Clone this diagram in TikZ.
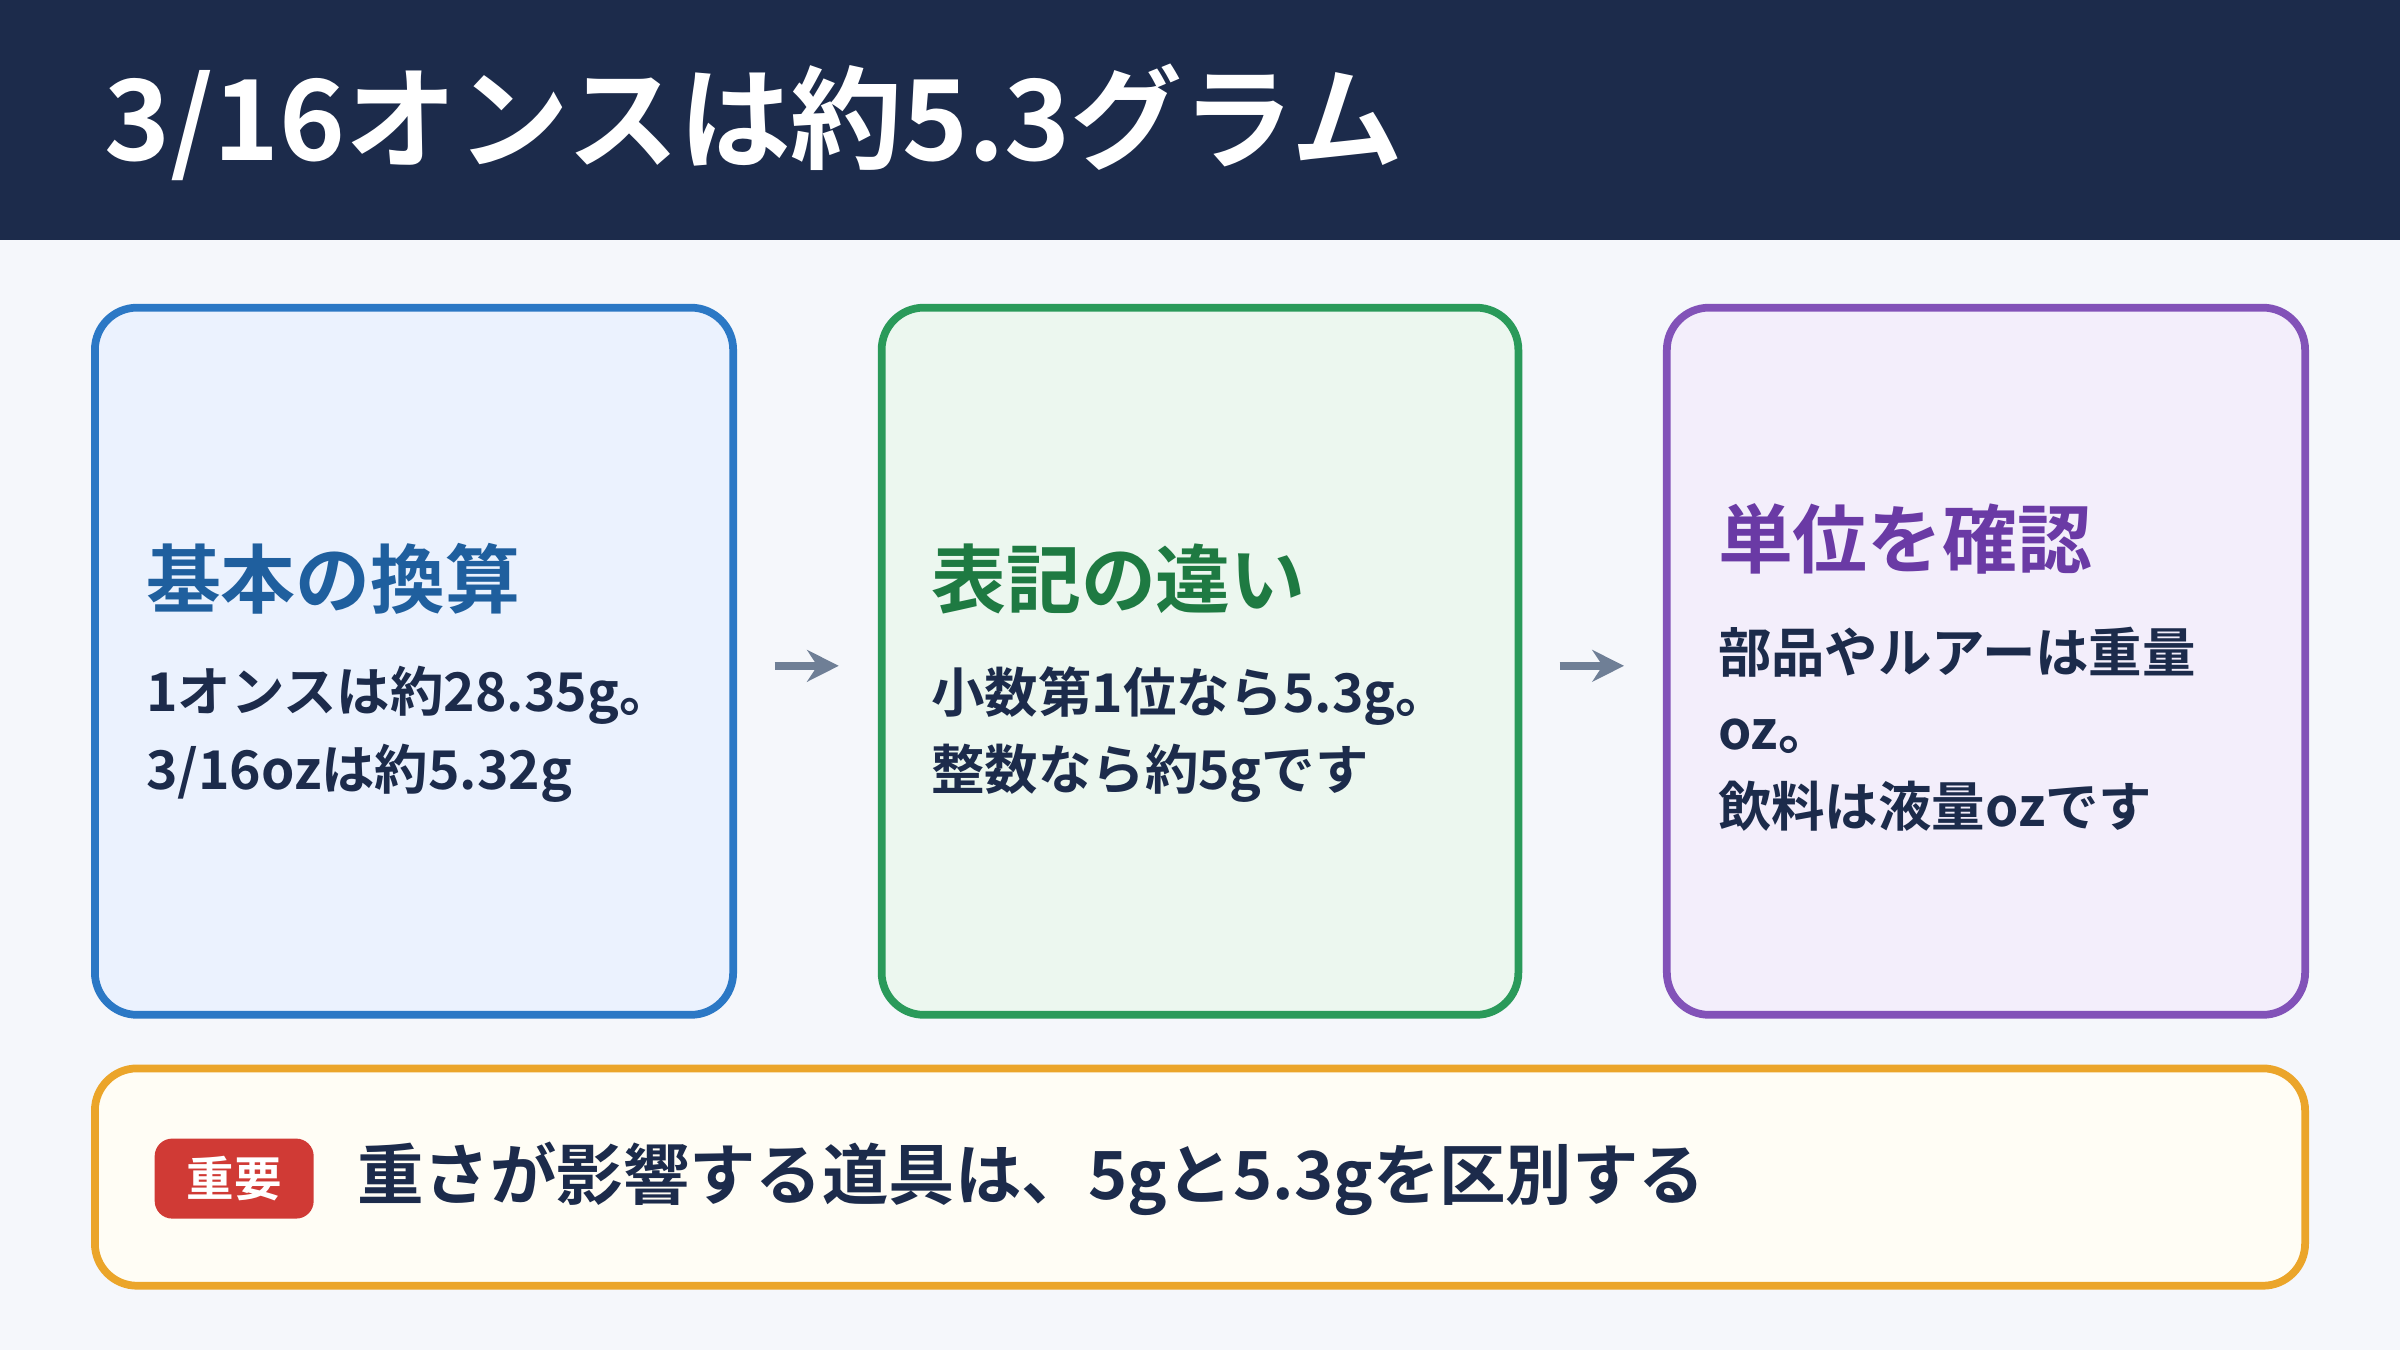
\documentclass[tikz,border=0pt]{standalone}
\usepackage{fontspec}
\setmainfont{Noto Sans CJK JP Bold}
\usetikzlibrary{positioning,arrows.meta}
\definecolor{navy}{HTML}{1C2B4B}
\definecolor{pagebg}{HTML}{F5F7FB}
\definecolor{bluec}{HTML}{2B78C5}
\definecolor{bluebg}{HTML}{EBF2FE}
\definecolor{bluet}{HTML}{1F5F9E}
\definecolor{greenc}{HTML}{2A9A5A}
\definecolor{greenbg}{HTML}{ECF7EF}
\definecolor{greent}{HTML}{1E7A42}
\definecolor{purplec}{HTML}{8252B8}
\definecolor{purplebg}{HTML}{F3EEFB}
\definecolor{purplet}{HTML}{6A3AA5}
\definecolor{orangec}{HTML}{EBA52A}
\definecolor{orangebg}{HTML}{FFFDF5}
\definecolor{redc}{HTML}{D03A35}
\definecolor{arrowc}{HTML}{6F7F96}
\tikzset{
	card/.style={draw=#1, line width=2.2pt, rounded corners=12pt},
	head/.style={anchor=west, inner sep=0pt, font=\fontsize{21.3}{26}\selectfont},
	body/.style={anchor=north west, inner sep=0pt, text=navy, align=left, font=\fontsize{15.2}{22}\selectfont},
	flowarrow/.style={-{Stealth[length=9pt,width=9pt]}, line width=2.4pt, draw=arrowc}
}
\begin{document}
\begin{tikzpicture}[x=0.01531cm, y=-0.01531cm]
	\useasboundingbox (0,0) rectangle (1568,882);
	\fill[pagebg] (0,0) rectangle (1568,882);
	\fill[navy] (0,0) rectangle (1568,157);
	\node[anchor=west, inner sep=0pt, text=white, font=\fontsize{31.8}{38}\selectfont] (title) at (68,80) {3/16オンスは約5.3グラム};

	% cards
	\filldraw[card=bluec, fill=bluebg] (62,201) rectangle (479,663);
	\filldraw[card=greenc, fill=greenbg] (576,201) rectangle (992,663);
	\filldraw[card=purplec, fill=purplebg] (1089,201) rectangle (1506,663);

	\node[head, text=bluet] (h1) at (95,378) {基本の換算};
	\node[body] (b1) at (95,435) {1オンスは約28.35g。\\3/16ozは約5.32g};

	\node[head, text=greent] (h2) at (608,378) {表記の違い};
	\node[body] (b2) at (608,435) {小数第1位なら5.3g。\\整数なら約5gです};

	\node[head, text=purplet] (h3) at (1122,352) {単位を確認};
	\node[body] (b3) at (1122,409) {部品やルアーは重量\\oz。\\飲料は液量ozです};

	\coordinate (a1s) at (506,435);
	\coordinate (a1e) at (548,435);
	\coordinate (a2s) at (1019,435);
	\coordinate (a2e) at (1061,435);
	\draw[flowarrow] (a1s) -- (a1e);
	\draw[flowarrow] (a2s) -- (a2e);

	% note
	\filldraw[card=orangec, fill=orangebg] (62,698) rectangle (1506,840);
	\node[fill=redc, rounded corners=5pt, text=white, inner sep=0pt,
		minimum width=1.59cm, minimum height=0.8cm, font=\fontsize{13.5}{16}\selectfont] (tag) at (153,770) {重要};
	\node[anchor=west, inner sep=0pt, text=navy, font=\fontsize{18.9}{23}\selectfont] (note) at (233,770) {重さが影響する道具は、5gと5.3gを区別する};
\end{tikzpicture}
\end{document}
